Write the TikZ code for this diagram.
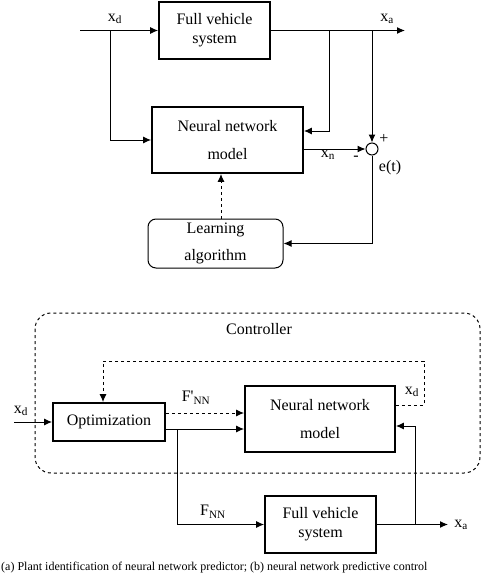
\documentclass[tikz,border=0pt]{standalone}
\usepackage{fontspec}
\setmainfont{Liberation Serif}
\usepackage{tikz}
\usetikzlibrary{arrows.meta, positioning, calc}

\begin{document}
\begin{tikzpicture}[
    x=1pt, y=-1pt,
    every node/.style={font=\fontsize{16}{19}\selectfont}, % 统一字体
    block/.style={draw, line width=1.8pt, align=center, inner sep=0pt}, % 粗框方块
    roundbox/.style={draw, line width=1pt, rounded corners=8pt, align=center, inner sep=0pt},
    conn/.style={line width=1pt, -{Latex[length=8pt, width=7pt]}}, % 连线+实心箭头
    ctrl/.style={line width=1pt, dashed, rounded corners=16pt}, % 控制器虚线框
    sumpt/.style={circle, draw, line width=1pt, minimum size=12pt, inner sep=0pt},
    lbl/.style={inner sep=0pt}
]
    \useasboundingbox (0,0) rectangle (500,575);

    % 1. (a) 辨识结构
    \node[block, minimum width=111, minimum height=57] (fvsA) at (214.5,30.5) {Full vehicle\\system};
    \node[block, minimum width=151, minimum height=66] (nnA) at (227.5,140) {Neural network\\[9pt]model};
    \node[roundbox, minimum width=135, minimum height=49] (learn) at (215.5,243.5) {Learning\\[8pt]algorithm};
    \node[sumpt] (sum) at (372,149) {};

    \coordinate (inA) at (80,30.5);
    \coordinate (brXd) at (110,30.5);
    \coordinate (outA) at (405,30.5);
    \coordinate (brNN) at (329,30.5);
    \coordinate (brSum) at (372,30.5);
    \coordinate (lrnX) at (221,0);

    \draw[conn] (inA) -- (fvsA.west);
    \draw[conn] (brXd) |- (nnA.west);
    \draw[conn] (fvsA.east) -- (outA);
    \draw[conn] (brNN) |- ([yshift=9pt]nnA.east);
    \draw[conn] (brSum) -- (sum.north);
    \draw[conn] ([yshift=-9pt]nnA.east) -- (sum.west);
    \draw[conn] (sum.south) |- (learn.east);
    \draw[conn, dashed] (learn.north -| lrnX) -- (nnA.south -| lrnX);

    % 标注
    \node[lbl] (xdA) at (115,19) {x\textsubscript{d}};
    \node[lbl] (xaA) at (387,19) {x\textsubscript{a}};
    \node[lbl] (xnA) at (328,155) {x\textsubscript{n}};
    \node[lbl] (minus) at (356,158) {-};
    \node[lbl] (plus) at (384,139) {+};
    \node[lbl] (err) at (390,168) {e(t)};

    % 2. (b) 预测控制结构
    \draw[ctrl] (35,313) rectangle (480,473);
    \node[lbl] (ctrlname) at (259,329) {Controller};

    \node[block, minimum width=112, minimum height=38] (opt) at (109,422) {Optimization};
    \node[block, minimum width=150, minimum height=66] (nnB) at (320,419) {Neural network\\[9pt]model};
    \node[block, minimum width=111, minimum height=57] (fvsB) at (320.5,524.5) {Full vehicle\\system};

    \coordinate (inB) at (14,422);
    \coordinate (brF) at (177,0);
    \coordinate (outB) at (448,524.5);
    \coordinate (brXa) at (415,524.5);
    \coordinate (fbR) at (424,361);
    \coordinate (fbL) at (103,0);

    \draw[conn] (inB) -- (opt.west);
    \draw[conn, dashed] ([yshift=9pt]opt.east) coordinate (fA) -- (fA -| nnB.west);
    \draw[conn] ([yshift=-7pt]opt.east) coordinate (fB) -- (fB -| nnB.west);
    \draw[conn] (fB -| brF) |- (fvsB.west);
    \draw[conn] (fvsB.east) -- (outB);
    \draw[conn] (brXa) |- ([yshift=-7pt]nnB.east);
    \draw[conn, dashed] ([yshift=14pt]nnB.east) -| (fbR) -| (opt.north -| fbL);

    % 标注
    \node[lbl] (xdB) at (21,411) {x\textsubscript{d}};
    \node[lbl] (fpnn) at (196,398) {F\textquotesingle\textsubscript{NN}};
    \node[lbl] (fnn) at (213,512) {F\textsubscript{NN}};
    \node[lbl] (xaB) at (461,525) {x\textsubscript{a}};
    \node[lbl] (xdC) at (412,392) {x\textsubscript{d}};

    % 3. 图题
    \node[lbl, anchor=south west, font=\fontsize{12}{14}\selectfont] (cap) at (1,573) {(a) Plant identification of neural network predictor; (b) neural network predictive control};
\end{tikzpicture}
\end{document}
